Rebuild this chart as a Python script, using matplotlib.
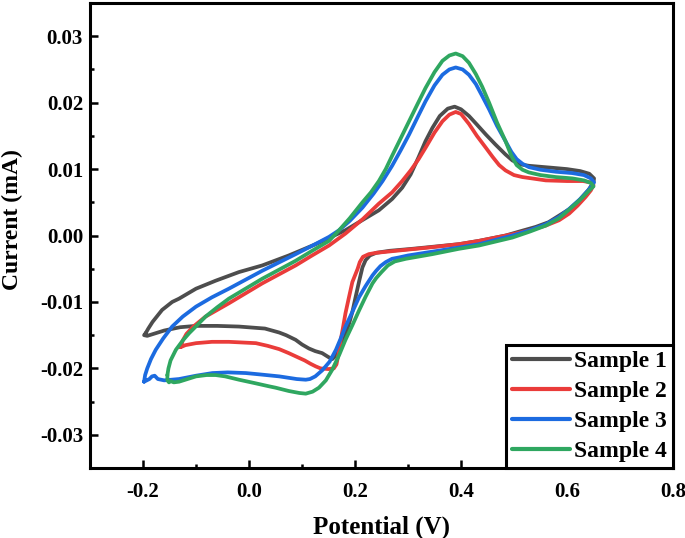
import matplotlib
matplotlib.use("Agg")
import matplotlib.pyplot as plt
from matplotlib.ticker import MultipleLocator

plt.rcParams['font.family'] = ['Liberation Serif', 'DejaVu Serif']
plt.rcParams['font.weight'] = 'bold'

labels = ["Sample 1", "Sample 2", "Sample 3", "Sample 4"]
colors = ["#4d4d4d", "#ea3c3a", "#1c6be0", "#2fa760"]

s1_x = [-0.195, -0.190, -0.182, -0.164, -0.145, -0.132, -0.100, -0.063, -0.019, 0.025, 0.075, 0.126, 0.182, 0.245,
        0.270, 0.289, 0.305, 0.320, 0.333, 0.346, 0.360, 0.375, 0.388, 0.400, 0.415, 0.430, 0.447, 0.465, 0.484,
        0.497, 0.513, 0.528, 0.572, 0.600, 0.625, 0.642, 0.651, 0.650,
        0.640, 0.623, 0.605, 0.585, 0.565, 0.541, 0.510, 0.484, 0.434, 0.396, 0.308, 0.265, 0.240, 0.228, 0.220,
        0.214, 0.208, 0.201, 0.195, 0.189, 0.181, 0.173, 0.165, 0.157, 0.150, 0.138, 0.125, 0.113, 0.100, 0.088,
        0.070, 0.057, 0.030, -0.019, -0.060, -0.100, -0.130, -0.160, -0.180, -0.192, -0.198, -0.195]
s1_y = [-0.0147, -0.0140, -0.0130, -0.0112, -0.0100, -0.0095, -0.0080, -0.0068, -0.0055, -0.0045, -0.0030, -0.0013, 0.0008, 0.0038,
        0.0055, 0.0072, 0.0092, 0.0118, 0.0142, 0.0162, 0.0180, 0.0191, 0.0194, 0.0190, 0.0180, 0.0167, 0.0152, 0.0137, 0.0122,
        0.0113, 0.0107, 0.0105, 0.0102, 0.0100, 0.0097, 0.0093, 0.0086, 0.0080,
        0.0068, 0.0053, 0.0040, 0.0030, 0.0020, 0.0013, 0.0006, 0.0000, -0.0008, -0.0013, -0.0020, -0.0023, -0.0026, -0.0030, -0.0037,
        -0.0048, -0.0068, -0.0093, -0.0115, -0.0132, -0.0152, -0.0168, -0.0180, -0.0186, -0.0183, -0.0177, -0.0174, -0.0170, -0.0164, -0.0157,
        -0.0150, -0.0146, -0.0140, -0.0137, -0.0136, -0.0136, -0.0138, -0.0143, -0.0148, -0.0151, -0.0150, -0.0147]

s2_x = [-0.129, -0.125, -0.118, -0.105, -0.082, -0.038, 0.025, 0.088, 0.119, 0.151, 0.182, 0.215, 0.245, 0.270,
        0.289, 0.305, 0.320, 0.333, 0.350, 0.365, 0.378, 0.390, 0.400, 0.415, 0.430, 0.447, 0.460, 0.472, 0.484,
        0.500, 0.516, 0.560, 0.600, 0.630, 0.645, 0.650,
        0.645, 0.635, 0.620, 0.604, 0.585, 0.560, 0.530, 0.497, 0.434, 0.396, 0.340, 0.277, 0.240, 0.226, 0.215,
        0.209, 0.205, 0.200, 0.195, 0.188, 0.182, 0.177, 0.173, 0.169, 0.165, 0.160, 0.150, 0.135, 0.126, 0.116,
        0.105, 0.094, 0.075, 0.057, 0.035, 0.013, -0.038, -0.070, -0.100, -0.120, -0.129]
s2_y = [-0.0168, -0.0158, -0.0148, -0.0137, -0.0122, -0.0102, -0.0072, -0.0045, -0.0030, -0.0015, 0.0003, 0.0025, 0.0048, 0.0065,
        0.0082, 0.0098, 0.0115, 0.0132, 0.0155, 0.0172, 0.0182, 0.0186, 0.0183, 0.0168, 0.0150, 0.0132, 0.0118, 0.0106, 0.0098,
        0.0091, 0.0088, 0.0083, 0.0082, 0.0082, 0.0080, 0.0076,
        0.0068, 0.0058, 0.0045, 0.0033, 0.0023, 0.0015, 0.0008, 0.0002, -0.0008, -0.0013, -0.0018, -0.0023, -0.0026, -0.0028, -0.0032,
        -0.0040, -0.0050, -0.0060, -0.0070, -0.0095, -0.0117, -0.0140, -0.0157, -0.0178, -0.0194, -0.0200, -0.0201, -0.0200, -0.0197, -0.0193,
        -0.0188, -0.0184, -0.0177, -0.0171, -0.0166, -0.0162, -0.0160, -0.0160, -0.0162, -0.0165, -0.0168]

s3_x = [-0.198, -0.196, -0.192, -0.185, -0.176, -0.162, -0.145, -0.125, -0.100, -0.070, -0.038, 0.025, 0.088, 0.120,
        0.151, 0.170, 0.190, 0.214, 0.235, 0.252, 0.270, 0.286, 0.302, 0.318, 0.333, 0.350, 0.365, 0.378, 0.390,
        0.403, 0.415, 0.428, 0.440, 0.453, 0.468, 0.484, 0.495, 0.505, 0.516, 0.528, 0.550, 0.579, 0.610, 0.632,
        0.645, 0.651,
        0.642, 0.625, 0.604, 0.585, 0.560, 0.530, 0.497, 0.434, 0.396, 0.340, 0.300, 0.283, 0.270, 0.258, 0.248,
        0.240, 0.233, 0.220, 0.2075, 0.195, 0.182, 0.173, 0.164, 0.152, 0.138, 0.125, 0.115, 0.107, 0.090, 0.057,
        0.020, -0.006, -0.040, -0.069, -0.100, -0.132, -0.160, -0.172, -0.178, -0.183, -0.188, -0.193, -0.198]
s3_y = [-0.0220, -0.0210, -0.0200, -0.0186, -0.0172, -0.0155, -0.0137, -0.0122, -0.0107, -0.0093, -0.0080, -0.0053, -0.0028, -0.0015,
        -0.0002, 0.0008, 0.0022, 0.0042, 0.0063, 0.0082, 0.0105, 0.0128, 0.0152, 0.0178, 0.0202, 0.0226, 0.0242, 0.0250, 0.0253,
        0.0250, 0.0242, 0.0228, 0.0210, 0.0190, 0.0165, 0.0142, 0.0126, 0.0115, 0.0108, 0.0103, 0.0099, 0.0096, 0.0094, 0.0091,
        0.0086, 0.0080,
        0.0070, 0.0055, 0.0040, 0.0028, 0.0017, 0.0008, 0.0000, -0.0013, -0.0018, -0.0025, -0.0030, -0.0033, -0.0035, -0.0040, -0.0046,
        -0.0053, -0.0060, -0.0076, -0.0093, -0.0115, -0.0137, -0.0155, -0.0172, -0.0190, -0.0203, -0.0212, -0.0216, -0.0217, -0.0216, -0.0212,
        -0.0209, -0.0207, -0.0206, -0.0207, -0.0211, -0.0216, -0.0218, -0.0216, -0.0211, -0.0212, -0.0216, -0.0218, -0.0220]

s4_x = [-0.154, -0.152, -0.148, -0.138, -0.125, -0.113, -0.098, -0.082, -0.060, -0.038, 0.025, 0.088, 0.119, 0.151,
        0.170, 0.190, 0.214, 0.230, 0.245, 0.258, 0.270, 0.286, 0.302, 0.318, 0.333, 0.350, 0.365, 0.378, 0.390,
        0.403, 0.415, 0.428, 0.440, 0.453, 0.468, 0.484, 0.495, 0.505, 0.516, 0.528, 0.550, 0.579, 0.610, 0.632,
        0.645, 0.650,
        0.642, 0.625, 0.604, 0.585, 0.560, 0.530, 0.497, 0.434, 0.396, 0.346, 0.296, 0.275, 0.262, 0.250, 0.240,
        0.233, 0.220, 0.2075, 0.195, 0.182, 0.170, 0.157, 0.145, 0.132, 0.120, 0.107, 0.095, 0.075, 0.050, 0.038,
        0.010, -0.019, -0.045, -0.063, -0.080, -0.100, -0.120, -0.132, -0.142, -0.148, -0.151, -0.154, -0.154]
s4_y = [-0.0210, -0.0200, -0.0188, -0.0172, -0.0158, -0.0147, -0.0135, -0.0122, -0.0108, -0.0095, -0.0065, -0.0038, -0.0023, -0.0008,
        0.0008, 0.0026, 0.0050, 0.0065, 0.0082, 0.0100, 0.0120, 0.0146, 0.0172, 0.0198, 0.0222, 0.0246, 0.0263, 0.0271, 0.0274,
        0.0270, 0.0260, 0.0243, 0.0224, 0.0200, 0.0170, 0.0142, 0.0120, 0.0106, 0.0099, 0.0095, 0.0091, 0.0088, 0.0086, 0.0083,
        0.0079, 0.0074,
        0.0068, 0.0054, 0.0039, 0.0026, 0.0015, 0.0006, -0.0003, -0.0015, -0.0020, -0.0028, -0.0035, -0.0039, -0.0045, -0.0055, -0.0064,
        -0.0072, -0.0092, -0.0113, -0.0135, -0.0157, -0.0180, -0.0202, -0.0218, -0.0229, -0.0235, -0.0238, -0.0237, -0.0234, -0.0229, -0.0227,
        -0.0222, -0.0217, -0.0212, -0.0210, -0.0210, -0.0212, -0.0217, -0.0220, -0.0221, -0.0219, -0.0221, -0.0218, -0.0210]

series = [(s1_x, s1_y), (s2_x, s2_y), (s3_x, s3_y), (s4_x, s4_y)]

fig = plt.figure(figsize=(6.85, 5.38), dpi=100)
ax = fig.add_axes([0.1314, 0.130, 0.8511, 0.8644])

for (xs, ys), c, lab in zip(series, colors, labels):
    ax.plot(xs, ys, color=c, lw=2.7, label=lab, solid_joinstyle='round', solid_capstyle='round')

ax.set_xlim(-0.3, 0.8)
ax.set_ylim(-0.035, 0.035)
ax.xaxis.set_minor_locator(MultipleLocator(0.1))
ax.yaxis.set_minor_locator(MultipleLocator(0.005))
ax.set_xticks([-0.2, 0.0, 0.2, 0.4, 0.6, 0.8])
ax.set_xticklabels(["-0.2", "0.0", "0.2", "0.4", "0.6", "0.8"])
ax.set_yticks([-0.03, -0.02, -0.01, 0.0, 0.01, 0.02, 0.03])
ax.set_yticklabels(["-0.03", "-0.02", "-0.01", "0.00", "0.01", "0.02", "0.03"])

ax.tick_params(which='major', direction='in', length=6, width=1.8, labelsize=15)
ax.tick_params(axis='x', which='major', pad=10)
ax.tick_params(axis='y', which='major', pad=5)
ax.tick_params(which='minor', direction='in', length=3, width=1.8)
for lbl in ax.get_xticklabels() + ax.get_yticklabels():
    lbl.set_fontweight('bold')
for sp in ax.spines.values():
    sp.set_linewidth(2.2)

ax.set_xlabel("Potential (V)", fontsize=18, fontweight='bold', labelpad=10)
ax.set_ylabel("Current (mA)", fontsize=17, fontweight='bold')
ax.yaxis.set_label_coords(-0.115, 0.535)

leg = ax.legend(loc='lower right', borderaxespad=0, fancybox=False, frameon=True,
                edgecolor='black', handlelength=2.45, handletextpad=0.2,
                labelspacing=0.36, borderpad=0.25, prop={'size': 17, 'weight': 'bold'})
leg.get_frame().set_linewidth(2.2)
leg.get_frame().set_alpha(1)
for line in leg.get_lines():
    line.set_linewidth(3)

fig.savefig("out.png", dpi=100)
